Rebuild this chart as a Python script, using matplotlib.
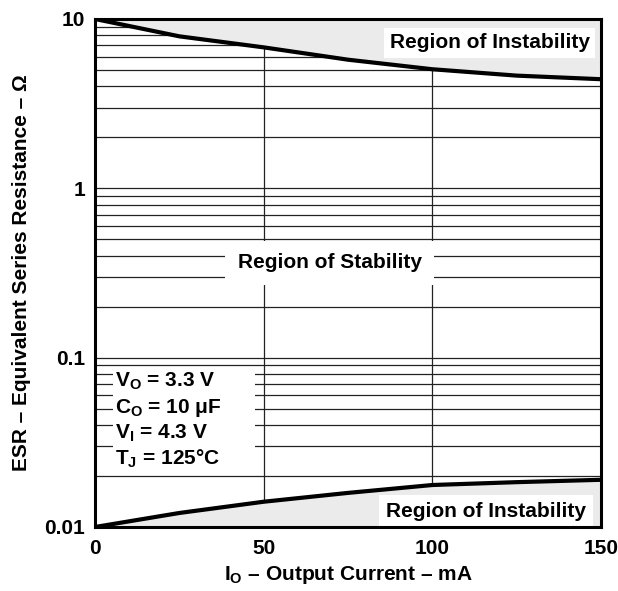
import numpy as np
import matplotlib.pyplot as plt
from matplotlib.patches import Rectangle
from matplotlib.ticker import LogLocator, NullFormatter

plt.rcParams['font.family'] = ['Liberation Sans', 'DejaVu Sans']
plt.rcParams['font.weight'] = 'bold'
plt.rcParams['mathtext.fontset'] = 'custom'
plt.rcParams['mathtext.rm'] = 'Liberation Sans:bold'
plt.rcParams['mathtext.it'] = 'Liberation Sans:bold'
plt.rcParams['mathtext.bf'] = 'Liberation Sans:bold'

# output current (mA) and ESR stability limits (ohm)
io = [0, 25, 50, 75, 100, 125, 150]
esr_upper = [10.0, 7.9, 6.8, 5.75, 5.05, 4.63, 4.41]
esr_lower = [0.0100, 0.0121, 0.0141, 0.0159, 0.0177, 0.0184, 0.0190]

xticks = [0, 50, 100, 150]
yticks = [0.01, 0.1, 1, 10]
ytick_labels = ['0.01', '0.1', '1', '10']

conditions = [r'V$_\mathregular{O}$ = 3.3 V',
              r'C$_\mathregular{O}$ = 10 $\mathregular{\mu}$F',
              r'V$_\mathregular{I}$ = 4.3 V',
              r'T$_\mathregular{J}$ = 125°C']

fs = 15
fig = plt.figure(figsize=(6.18, 5.91), dpi=100)
ax = fig.add_axes([95/618, 1-527/591, 506/618, 508/591])

ax.set_yscale('log')
ax.set_xlim(0, 150)
ax.set_ylim(0.01, 10)

# shaded unstable regions (drawn over the grid)
ax.fill_between(io, esr_upper, 10, color='#ebebeb', lw=0, zorder=2)
ax.fill_between(io, 0.01, esr_lower, color='#ebebeb', lw=0, zorder=2)

ax.set_xticks(xticks)
ax.set_xticklabels([str(t) for t in xticks], fontsize=fs, fontweight='bold')
ax.set_yticks(yticks)
ax.set_yticklabels(ytick_labels, fontsize=fs, fontweight='bold')
ax.yaxis.set_minor_locator(LogLocator(base=10, subs=np.arange(2, 10)))
ax.yaxis.set_minor_formatter(NullFormatter())
ax.tick_params(which='both', length=0)
ax.tick_params(axis='x', pad=9)
ax.tick_params(axis='y', pad=7)

ax.grid(True, which='both', axis='y', color='#222222', lw=0.9, zorder=1)
ax.grid(True, which='major', axis='x', color='#222222', lw=0.9, zorder=1)
ax.set_axisbelow(True)

ax.plot(io, esr_upper, color='black', lw=3, zorder=4)
ax.plot(io, esr_lower, color='black', lw=3, zorder=4)

for s in ax.spines.values():
    s.set_linewidth(2.2)
    s.set_zorder(6)

ax.text(0.978, 0.953, 'Region of Instability', transform=ax.transAxes,
        ha='right', va='center', fontsize=fs, fontweight='bold', zorder=5,
        bbox=dict(facecolor='white', edgecolor='none', pad=4))
ax.text(0.970, 0.031, 'Region of Instability', transform=ax.transAxes,
        ha='right', va='center', fontsize=fs, fontweight='bold', zorder=5,
        bbox=dict(facecolor='white', edgecolor='none', pad=5))
ax.text(0.464, 0.52, 'Region of Stability', transform=ax.transAxes,
        ha='center', va='center', fontsize=fs, fontweight='bold', zorder=5,
        bbox=dict(facecolor='white', edgecolor='none', pad=9))

ax.add_patch(Rectangle((0.036, 0.104), 0.28, 0.209, transform=ax.transAxes,
                       facecolor='white', edgecolor='none', zorder=3))
for i, line in enumerate(conditions):
    ax.text(0.04, 0.2756 - i*0.0512, line, transform=ax.transAxes,
            ha='left', va='baseline', fontsize=fs, fontweight='bold', zorder=5)

ax.set_xlabel(r'I$_\mathregular{O}$ – Output Current – mA', fontsize=fs,
              fontweight='bold', labelpad=4)
ax.set_ylabel('ESR – Equivalent Series Resistance – Ω', fontsize=fs,
              fontweight='bold', labelpad=10)

fig.savefig('out.png', dpi=100)
